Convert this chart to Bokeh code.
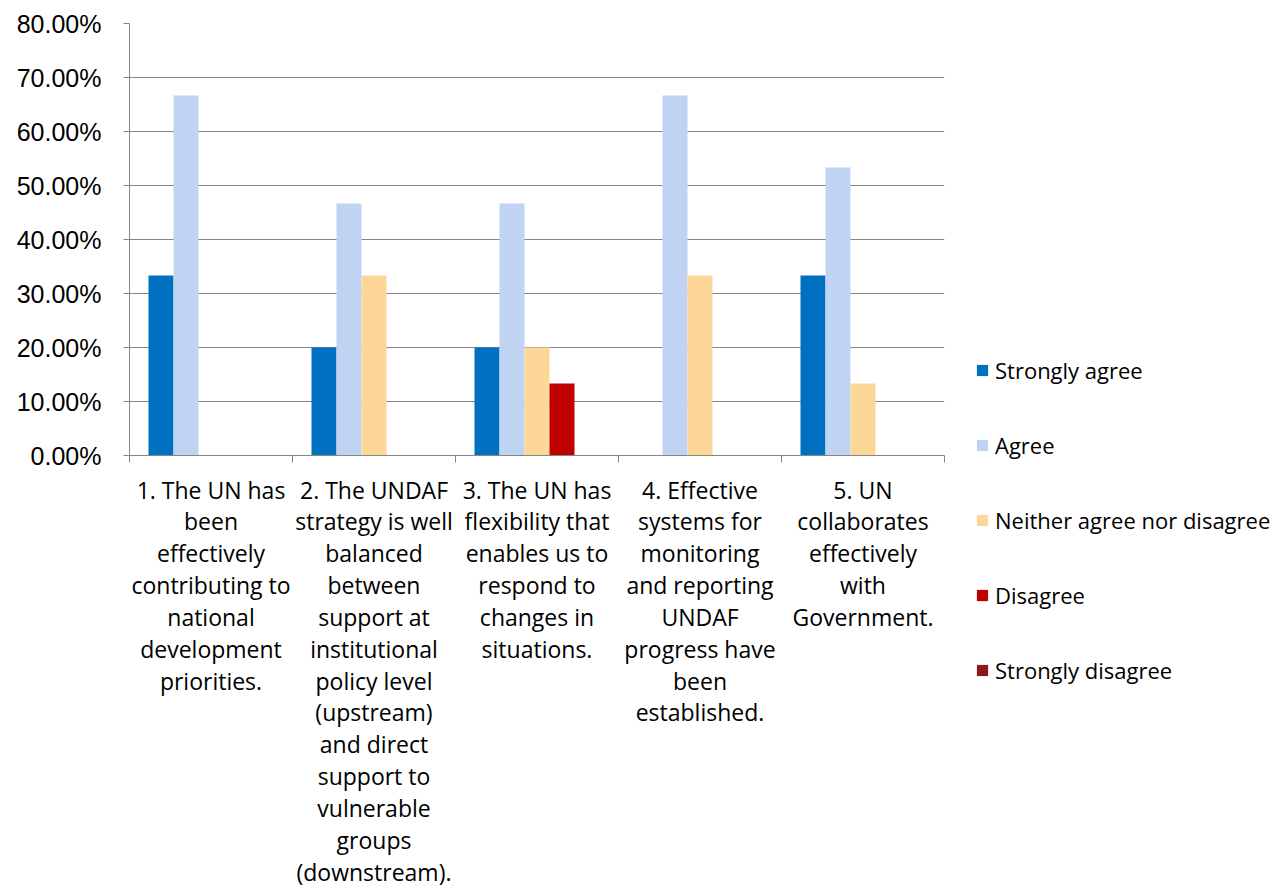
from bokeh.plotting import figure
from bokeh.models import (Range1d, FixedTicker, NumeralTickFormatter, Legend, LegendItem,
                          ColumnDataSource)
from bokeh.embed import file_html
from bokeh.resources import INLINE

categories = [
    "1. The UN has\nbeen\neffectively\ncontributing to\nnational\ndevelopment\npriorities.",
    "2. The UNDAF\nstrategy is well\nbalanced\nbetween\nsupport at\ninstitutional\npolicy level\n(upstream)\nand direct\nsupport to\nvulnerable\ngroups\n(downstream).",
    "3. The UN has\nflexibility that\nenables us to\nrespond to\nchanges in\nsituations.",
    "4. Effective\nsystems for\nmonitoring\nand reporting\nUNDAF\nprogress have\nbeen\nestablished.",
    "5. UN\ncollaborates\neffectively\nwith\nGovernment.",
]
series_names = ["Strongly agree", "Agree", "Neither agree nor disagree", "Disagree", "Strongly disagree"]
strongly_agree = [0.3333, 0.20, 0.20, 0.0, 0.3333]
agree = [0.6667, 0.4667, 0.4667, 0.6667, 0.5333]
neither = [0.0, 0.3333, 0.20, 0.3333, 0.1333]
disagree = [0.0, 0.0, 0.1333, 0.0, 0.0]
strongly_disagree = [0.0, 0.0, 0.0, 0.0, 0.0]
series_values = [strongly_agree, agree, neither, disagree, strongly_disagree]
colors = ["#0070C0", "#C0D3F2", "#FDD797", "#C00000", "#8B1A1A"]
y_ticks = [0.0, 0.1, 0.2, 0.3, 0.4, 0.5, 0.6, 0.7, 0.8]

GRAY = "#868686"

p = figure(frame_width=815, frame_height=432, output_backend="svg", toolbar_location=None,
           x_range=Range1d(0, len(categories)), y_range=Range1d(0, 0.8),
           min_border_left=129, min_border_right=343, min_border_top=23, min_border_bottom=435)
p.outline_line_color = None
p.background_fill_color = "white"
p.border_fill_color = "white"

bar_w = 0.1534
items = []
for k, (name, vals, col) in enumerate(zip(series_names, series_values, colors)):
    xs = [i + 0.5 + (k - 2) * bar_w for i in range(len(categories))]
    src = ColumnDataSource(dict(x=xs, top=vals))
    r = p.vbar(x="x", top="top", width=bar_w, source=src, fill_color=col, line_color=None)
    items.append(LegendItem(label=name, renderers=[r]))

# y axis
p.yaxis.ticker = FixedTicker(ticks=y_ticks)
p.yaxis.formatter = NumeralTickFormatter(format="0.00%")
p.yaxis.major_label_text_font = "Liberation Sans"
p.yaxis.major_label_text_font_size = "25px"
p.yaxis.major_label_text_color = "black"
p.yaxis.axis_line_color = GRAY
p.yaxis.major_tick_line_color = GRAY
p.yaxis.major_tick_out = 6
p.yaxis.major_tick_in = 0
p.yaxis.minor_tick_line_color = None
p.yaxis.major_label_standoff = 22

# x axis
centers = [i + 0.5 for i in range(len(categories))]
p.xaxis.ticker = FixedTicker(ticks=centers, minor_ticks=list(range(len(categories) + 1)))
p.xaxis.major_label_overrides = {c: lab for c, lab in zip(centers, categories)}
p.xaxis.major_label_text_font = "Open Sans"
p.xaxis.major_label_text_font_size = "23px"
p.xaxis.major_label_text_line_height = 0.995
p.xaxis.major_label_text_color = "black"
p.xaxis.axis_line_color = GRAY
p.xaxis.major_tick_line_color = None
p.xaxis.major_tick_out = 0
p.xaxis.major_tick_in = 0
p.xaxis.minor_tick_line_color = GRAY
p.xaxis.minor_tick_out = 7
p.xaxis.minor_tick_in = 0
p.xaxis.major_label_standoff = 11

p.xgrid.grid_line_color = None
p.ygrid.grid_line_color = GRAY

legend = Legend(items=items, location=(31, -230))
legend.margin = 0
legend.padding = 0
legend.border_line_color = None
legend.background_fill_alpha = 0
legend.glyph_width = 14
legend.glyph_height = 14
legend.label_height = 20
legend.spacing = 45
legend.label_standoff = 6
legend.label_text_font = "Open Sans"
legend.label_text_font_size = "22px"
legend.label_text_color = "black"
p.add_layout(legend, "right")

open("out.html", "w").write(file_html(p, INLINE))
